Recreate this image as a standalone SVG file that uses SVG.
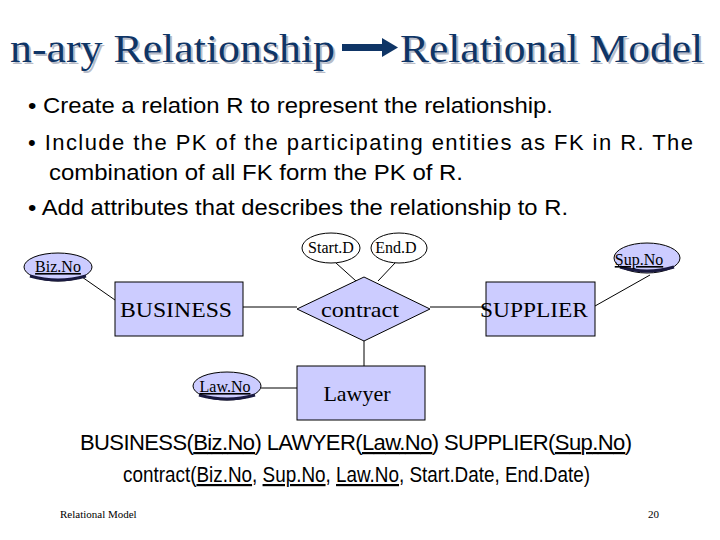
<svg xmlns="http://www.w3.org/2000/svg" width="720" height="540" viewBox="0 0 720 540">
<style>
.ti{font-family:"Liberation Serif",serif;font-size:40px;fill:#0f3566}
.sh{font-family:"Liberation Serif",serif;font-size:40px;fill:#b8bcc8}
.b{font-family:"Liberation Sans",sans-serif;font-size:22px;fill:#000}
.n{fill:#ccccff;stroke:#000;stroke-width:1}
.nt{font-family:"Liberation Serif",serif;font-size:22px;text-anchor:middle;fill:#000}
.at{font-family:"Liberation Serif",serif;font-size:16px;text-anchor:middle;fill:#000}
.e{fill:#fff;stroke:#000;stroke-width:1}
.k{fill:#ccccff;stroke:#000;stroke-width:1}
.kb{fill:none;stroke:#1a1a40;stroke-width:3}
.c{stroke:#000;stroke-width:1;fill:none}
.f{font-family:"Liberation Serif",serif;font-size:11px;fill:#000}
</style>
<rect width="720" height="540" fill="#fff"/>
<text class="sh" x="12" y="64" textLength="325" lengthAdjust="spacingAndGlyphs">n-ary Relationship</text>
<text class="ti" x="10" y="62" textLength="325" lengthAdjust="spacingAndGlyphs">n-ary Relationship</text>
<rect x="342" y="44" width="42" height="7" fill="#0f3566"/>
<polygon points="382,38 398,47.5 382,57" fill="#0f3566"/>
<text class="sh" x="402" y="64" textLength="303" lengthAdjust="spacingAndGlyphs">Relational Model</text>
<text class="ti" x="400" y="62" textLength="303" lengthAdjust="spacingAndGlyphs">Relational Model</text>
<text class="b" x="28" y="113" textLength="525" lengthAdjust="spacingAndGlyphs">• Create a relation R to represent the relationship.</text>
<text class="b" x="28" y="150" textLength="665" lengthAdjust="spacing">• Include the PK of the participating entities as FK in R. The</text>
<text class="b" x="49" y="180" textLength="414" lengthAdjust="spacingAndGlyphs">combination of all FK  form the PK of R.</text>
<text class="b" x="28" y="215" textLength="540" lengthAdjust="spacingAndGlyphs">• Add attributes that describes the relationship to R.</text>
<g id="connectors">
<line class="c" x1="82" y1="277" x2="115" y2="300"/>
<line class="c" x1="243" y1="307" x2="297" y2="307"/>
<line class="c" x1="430" y1="307" x2="486" y2="307"/>
<line class="c" x1="650" y1="275" x2="595" y2="306"/>
<line class="c" x1="364" y1="341" x2="364" y2="366"/>
<line class="c" x1="261" y1="388" x2="297" y2="388"/>
<line class="c" x1="336" y1="263" x2="356" y2="281"/>
<line class="c" x1="395" y1="263" x2="378" y2="281"/>
</g>
<g id="business"><rect class="n" x="115" y="282" width="128" height="54"/><text class="nt" x="176" y="317" textLength="112" lengthAdjust="spacingAndGlyphs">BUSINESS</text></g>
<g id="contract"><polygon class="n" points="297,309 364,277 430,309 364,341"/><text class="nt" x="360" y="317" textLength="78" lengthAdjust="spacingAndGlyphs">contract</text></g>
<g id="supplier"><rect class="n" x="486" y="282" width="109" height="54"/><text class="nt" x="534" y="317" textLength="108" lengthAdjust="spacingAndGlyphs">SUPPLIER</text></g>
<g id="lawyer"><rect class="n" x="297" y="366" width="128" height="54"/><text class="nt" x="357" y="401">Lawyer</text></g>
<g id="bizno"><ellipse class="k" cx="58" cy="267" rx="34" ry="14"/><path class="kb" d="M30,276 Q58,284 86,276"/><text class="at" x="58" y="272" text-decoration="underline">Biz.No</text></g>
<g id="startd"><ellipse class="e" cx="331" cy="248" rx="29" ry="15"/><text class="at" x="331" y="253">Start.D</text></g>
<g id="endd"><ellipse class="e" cx="399" cy="248" rx="28" ry="15"/><text class="at" x="396" y="253">End.D</text></g>
<g id="supno"><ellipse class="k" cx="647" cy="258" rx="33" ry="15"/><path class="kb" d="M620,267 Q647,275 674,267"/><text class="at" x="639" y="265" text-decoration="underline">Sup.No</text></g>
<g id="lawno"><ellipse class="k" cx="227" cy="386" rx="34" ry="14"/><path class="kb" d="M199,395 Q227,403 255,395"/><text class="at" x="225" y="392" text-decoration="underline">Law.No</text></g>
<text class="b" x="80" y="450" font-size="18" textLength="552" lengthAdjust="spacing">BUSINESS(<tspan text-decoration="underline">Biz.No</tspan>)      LAWYER(<tspan text-decoration="underline">Law.No</tspan>)    SUPPLIER(<tspan text-decoration="underline">Sup.No</tspan>)</text>
<text class="b" x="123" y="482" font-size="18" textLength="467" lengthAdjust="spacingAndGlyphs">contract(<tspan text-decoration="underline">Biz.No</tspan>, <tspan text-decoration="underline">Sup.No</tspan>, <tspan text-decoration="underline">Law.No</tspan>, Start.Date, End.Date)</text>
<text class="f" x="60" y="518">Relational Model</text>
<text class="f" x="648" y="518">20</text>
</svg>
